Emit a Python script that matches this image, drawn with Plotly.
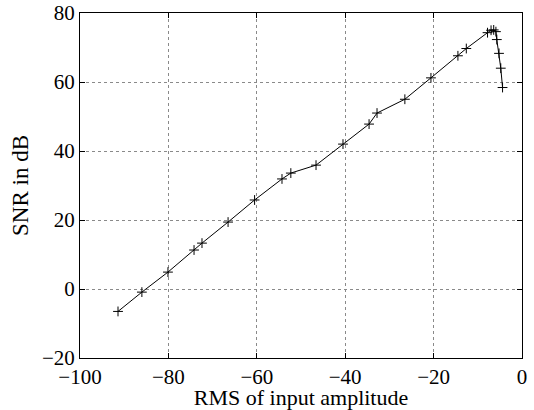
import plotly.graph_objects as go

rms_input = [-91.4, -86.0, -80.1, -74.2, -72.4, -66.5, -60.5, -54.3, -52.3, -46.6,
             -40.5, -34.6, -32.8, -26.5, -20.6, -14.5, -12.6, -7.8, -7.0, -6.4,
             -5.9, -5.7, -5.2, -4.8, -4.4]
snr_db = [-6.5, -0.9, 4.9, 11.3, 13.3, 19.4, 25.8, 31.9, 33.6, 35.9,
          42.0, 47.8, 51.0, 55.0, 61.2, 67.6, 69.7, 74.3, 75.0, 75.1,
          74.6, 72.3, 68.3, 64.0, 58.4]

x_ticks = [-100, -80, -60, -40, -20, 0]
y_ticks = [-20, 0, 20, 40, 60, 80]

font_family = "Liberation Serif, Times New Roman, serif"

fig = go.Figure()
fig.add_trace(go.Scatter(
    x=rms_input, y=snr_db, mode="lines+markers",
    line=dict(color="black", width=1),
    marker=dict(symbol="cross-thin", size=7, line=dict(color="black", width=1), color="black"),
    showlegend=False,
))

axis_common = dict(
    showline=True, linecolor="black", linewidth=1, mirror="ticks",
    ticks="inside", ticklen=5, tickcolor="black",
    showgrid=True, gridcolor="#8a8a8a", griddash="dot", gridwidth=1,
    zeroline=False, ticklabeloverflow="allow",
    tickfont=dict(family=font_family, size=21, color="black"),
)

fig.update_xaxes(range=[-100, 0], tickvals=x_ticks, ticktext=[str(v).replace("-", "\u2212") for v in x_ticks],
                 title=dict(text="RMS of input amplitude", font=dict(family=font_family, size=22, color="black"), standoff=0),
                 **axis_common)
fig.update_yaxes(range=[-20, 80], tickvals=y_ticks, ticktext=[str(v).replace("-", "\u2212") for v in y_ticks],
                 title=dict(text="SNR in dB", font=dict(family=font_family, size=23, color="black"), standoff=6),
                 **axis_common)

fig.update_layout(
    width=534, height=410,
    margin=dict(l=80, r=12, t=13, b=52, autoexpand=False),
    plot_bgcolor="white", paper_bgcolor="white",
)

fig.write_html("out.html", config={"displayModeBar": False},
               post_script="document.body.style.margin='0px';")
